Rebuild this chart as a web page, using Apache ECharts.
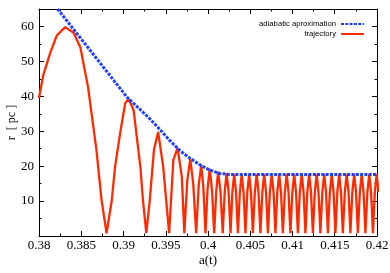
<!DOCTYPE html>
<html>
<head>
<meta charset="utf-8">
<script src="https://cdn.jsdelivr.net/npm/echarts@6/dist/echarts.min.js"></script>
<style>
html,body{margin:0;padding:0;background:#fff;}
#chart{width:390px;height:273px;}
</style>
</head>
<body>
<div id="chart"></div>
<script>
// x-axis tick values (a(t))
const xTicks = [0.38, 0.385, 0.39, 0.395, 0.40, 0.405, 0.41, 0.415, 0.42];
// y-axis tick labels (r [pc])
const yTicks = [10, 20, 30, 40, 50, 60];

// adiabatic approximation envelope
const adiabaticA = [0.3822, 0.3863, 0.3904, 0.3931, 0.3943, 0.3955, 0.3967, 0.3979, 0.3991, 0.4002, 0.4014, 0.4026, 0.4100, 0.4200];
const adiabaticR = [65.0, 52.4, 39.8, 33.6, 30.5, 27.3, 24.4, 22.2, 20.3, 18.9, 17.9, 17.6, 17.6, 17.6];

// trajectory
const trajA = [
  0.3800, 0.3805, 0.3813, 0.3821, 0.3831, 0.3841, 0.3849, 0.3858, 0.3868, 0.3874, 0.3880,
  0.3886, 0.3890, 0.3896, 0.3902, 0.3906, 0.3912, 0.3920, 0.3923, 0.3927,
  0.3931, 0.3936, 0.3941, 0.3947, 0.3954,
  0.3959, 0.3964, 0.3969, 0.3972,
  0.39755, 0.3979, 0.39825, 0.3986,
  0.3989, 0.3992, 0.39945, 0.3997,
  0.39995, 0.4002, 0.40048, 0.40073,
  0.40098, 0.4012, 0.40148, 0.40174,
  0.40198, 0.4022, 0.40244, 0.40267,
  0.40288, 0.40310, 0.40332, 0.40354,
  0.40377, 0.40399, 0.40421, 0.40443,
  0.40465, 0.40487, 0.40509, 0.40531,
  0.40554, 0.40576, 0.40598, 0.40620,
  0.40643, 0.40665, 0.40687, 0.40709,
  0.40732, 0.40754, 0.40776, 0.40798,
  0.40820, 0.40842, 0.40864, 0.40886,
  0.40909, 0.40931, 0.40953, 0.40975,
  0.40998, 0.41020, 0.41042, 0.41064,
  0.41087, 0.41109, 0.41131, 0.41153,
  0.41175, 0.41197, 0.41219, 0.41241,
  0.41264, 0.41286, 0.41308, 0.41330,
  0.41353, 0.41375, 0.41397, 0.41419,
  0.41442, 0.41464, 0.41486, 0.41508,
  0.41530, 0.41552, 0.41574, 0.41596,
  0.41619, 0.41641, 0.41663, 0.41685,
  0.41708, 0.41730, 0.41752, 0.41774,
  0.41797, 0.41819, 0.41841, 0.41863,
  0.41886, 0.41908, 0.41930, 0.41952,
  0.41974, 0.41996, 0.42018
];
const trajR = [
  39.5, 46.0, 52.2, 57.4, 59.8, 58.2, 54.0, 42.7, 24.6, 10.3, 0.8,
  10.0, 19.8, 29.4, 38.0, 39.3, 36.0, 19.7, 10.3, 0.8,
  10.0, 24.6, 29.8, 19.8, 0.8,
  21.7, 25.2, 17.0, 0.8,
  16.0, 22.0, 15.0, 0.8,
  14.5, 20.3, 14.0, 0.8,
  13.5, 19.2, 13.0, 0.8,
  13.0, 18.4, 12.8, 0.8,
  12.7, 18.0, 12.6, 0.8,
  12.5, 17.7, 12.5, 0.8,
  12.5, 17.7, 12.5, 0.8,
  12.5, 17.7, 12.5, 0.8,
  12.5, 17.7, 12.5, 0.8,
  12.5, 17.7, 12.5, 0.8,
  12.5, 17.7, 12.5, 0.8,
  12.5, 17.7, 12.5, 0.8,
  12.5, 17.7, 12.5, 0.8,
  12.5, 17.7, 12.5, 0.8,
  12.5, 17.7, 12.5, 0.8,
  12.5, 17.7, 12.5, 0.8,
  12.5, 17.7, 12.5, 0.8,
  12.5, 17.7, 12.5, 0.8,
  12.5, 17.7, 12.5, 0.8,
  12.5, 17.7, 12.5, 0.8,
  12.5, 17.7, 12.5, 0.8,
  12.5, 17.7, 12.5, 0.8,
  12.5, 17.7, 12.5, 0.8,
  12.5, 17.7, 12.5, 0.8,
  12.5, 17.7, 12.5, 0.8,
  12.5, 17.7, 12.5
];

const seriesNames = ['adiabatic aproximation', 'trajectory'];

const adiabaticData = adiabaticA.map((a, i) => [a, adiabaticR[i]]);
const trajData = trajA.map((a, i) => [a, trajR[i]]);

const serif = "'Liberation Serif', 'Times New Roman', serif";
const sans = "'Liberation Sans', Arial, sans-serif";

const chart = echarts.init(document.getElementById('chart'), null, {renderer: 'canvas'});

function xAxisCfg(pos, showLabel) {
  return {
    type: 'value', position: pos,
    min: xTicks[0], max: xTicks[xTicks.length - 1], interval: 0.005,
    axisLine: {show: true, onZero: false, lineStyle: {color: '#000', width: 1}},
    axisTick: {show: true, inside: true, length: 5, lineStyle: {color: '#000'}},
    minorTick: {show: true, splitNumber: 2, length: 2.5, lineStyle: {color: '#000'}},
    axisLabel: {show: showLabel, color: '#000', fontFamily: serif, fontSize: 13, margin: 3,
      hideOverlap: false,
      formatter: v => xTicks.some(t => Math.abs(t - v) < 1e-9) ? String(+v.toFixed(3)) : ''},
    splitLine: {show: false}, minorSplitLine: {show: false}
  };
}
function yAxisCfg(pos, showLabel) {
  return {
    type: 'value', position: pos,
    min: 0, max: 65, interval: 10,
    axisLine: {show: true, onZero: false, lineStyle: {color: '#000', width: 1}},
    axisTick: {show: true, inside: true, length: 5, lineStyle: {color: '#000'}},
    minorTick: {show: true, splitNumber: 2, length: 2.5, lineStyle: {color: '#000'}},
    axisLabel: {show: showLabel, color: '#000', fontFamily: serif, fontSize: 13, margin: 5,
      formatter: v => yTicks.indexOf(Math.round(v)) >= 0 && Math.abs(v - Math.round(v)) < 1e-9 ? String(Math.round(v)) : ''},
    splitLine: {show: false}, minorSplitLine: {show: false}
  };
}

const xb = xAxisCfg('bottom', true);
xb.name = 'a(t)'; xb.nameLocation = 'middle'; xb.nameGap = 18; xb.nameMoveOverlap = false;
xb.nameTextStyle = {color: '#000', fontFamily: serif, fontSize: 13};
const xt = xAxisCfg('top', false);
const yl = yAxisCfg('left', true);
yl.name = 'r  [ pc ]'; yl.nameLocation = 'middle'; yl.nameGap = 21; yl.nameRotate = 90; yl.nameMoveOverlap = false;
yl.nameTextStyle = {color: '#000', fontFamily: serif, fontSize: 12};
const yr = yAxisCfg('right', false);

chart.setOption({
  animation: false,
  backgroundColor: '#fff',
  grid: {left: 39, right: 13, top: 9, bottom: 37, containLabel: false, outerBoundsMode: 'none'},
  legend: {
    orient: 'vertical', align: 'right', right: 25, top: 20, padding: 0,
    itemWidth: 23, itemHeight: 8, itemGap: 2,
    textStyle: {fontFamily: sans, fontSize: 7.7, color: '#000'},
    itemStyle: {opacity: 0},
    data: seriesNames
  },
  xAxis: [xb, xt],
  yAxis: [yl, yr],
  series: [
    {
      name: seriesNames[1], type: 'line', xAxisIndex: 0, yAxisIndex: 0,
      data: trajData, symbol: 'none', showSymbol: false, z: 2,
      lineStyle: {color: '#ff2a00', width: 2.3}, itemStyle: {color: '#ff2a00'}
    },
    {
      name: seriesNames[0], type: 'line', xAxisIndex: 0, yAxisIndex: 0,
      data: adiabaticData, symbol: 'none', showSymbol: false, z: 3,
      lineStyle: {color: '#1e40ff', width: 3, type: [3, 1.3], cap: 'butt'}, itemStyle: {color: '#1e40ff'}
    }
  ]
});
</script>
</body>
</html>
